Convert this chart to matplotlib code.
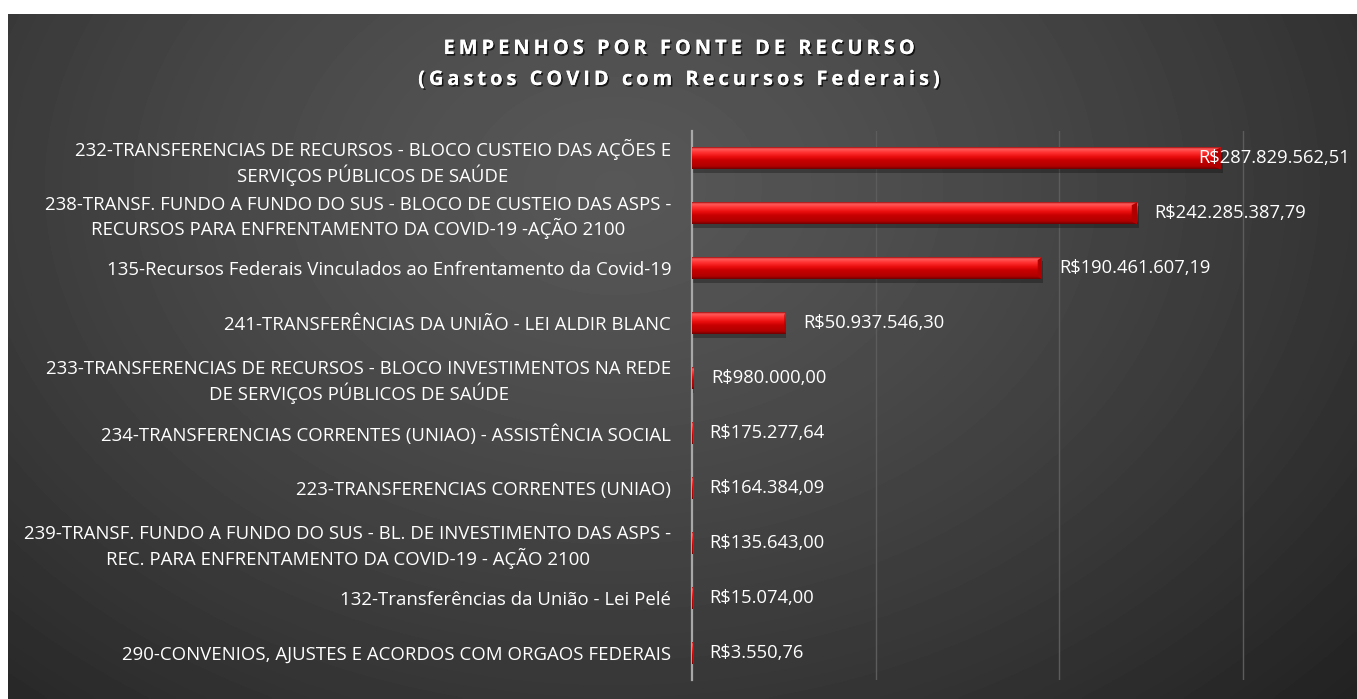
#!/usr/bin/env python3
"""Empenhos por fonte de recurso - gastos COVID com recursos federais."""

import numpy as np
import matplotlib
matplotlib.use("Agg")
import matplotlib.pyplot as plt
import matplotlib.patheffects as pe
from matplotlib.colors import LinearSegmentedColormap

# ── Data ─────────────────────────────────────────────────────────────────────
fontes = [
    "232-TRANSFERENCIAS DE RECURSOS - BLOCO CUSTEIO DAS AÇÕES E\nSERVIÇOS PÚBLICOS DE SAÚDE",
    "238-TRANSF. FUNDO A FUNDO DO SUS - BLOCO DE CUSTEIO DAS ASPS -\nRECURSOS PARA ENFRENTAMENTO DA COVID-19 -AÇÃO 2100",
    "135-Recursos Federais Vinculados ao Enfrentamento da Covid-19",
    "241-TRANSFERÊNCIAS DA UNIÃO - LEI ALDIR BLANC",
    "233-TRANSFERENCIAS DE RECURSOS - BLOCO INVESTIMENTOS NA REDE\nDE SERVIÇOS PÚBLICOS DE SAÚDE",
    "234-TRANSFERENCIAS CORRENTES (UNIAO) - ASSISTÊNCIA SOCIAL",
    "223-TRANSFERENCIAS CORRENTES (UNIAO)",
    "239-TRANSF. FUNDO A FUNDO DO SUS - BL. DE INVESTIMENTO DAS ASPS -\nREC. PARA ENFRENTAMENTO DA COVID-19 - AÇÃO 2100",
    "132-Transferências da União - Lei Pelé",
    "290-CONVENIOS, AJUSTES E ACORDOS COM ORGAOS FEDERAIS",
]
valores = [
    287829562.51, 242285387.79, 190461607.19, 50937546.30, 980000.00,
    175277.64, 164384.09, 135643.00, 15074.00, 3550.76,
]
rotulos = [
    "R$287.829.562,51", "R$242.285.387,79", "R$190.461.607,19",
    "R$50.937.546,30", "R$980.000,00", "R$175.277,64", "R$164.384,09",
    "R$135.643,00", "R$15.074,00", "R$3.550,76",
]

FONT = ["Open Sans", "DejaVu Sans"]
W, H = 1357, 699

fig = plt.figure(figsize=(W / 100, H / 100), dpi=100, facecolor="white")

# ── Background panel (radial grey gradient) ──────────────────────────────────
bg = fig.add_axes([8 / W, 0, 1 - 8 / W, 1 - 14 / H], zorder=0)
gx, gy = np.meshgrid(np.linspace(0, 1, 400), np.linspace(0, 1, 220))
d = np.sqrt(((gx - 0.45) / 0.75) ** 2 + ((gy - 0.25) / 1.1) ** 2)
shade = 0x57 - (0x57 - 0x22) * np.clip(d, 0, 1) ** 1.3
bg.imshow(shade, cmap="gray", vmin=0, vmax=255, aspect="auto",
          extent=(0, 1, 1, 0), interpolation="bicubic")
bg.set_axis_off()

# ── Main axes ────────────────────────────────────────────────────────────────
ax = fig.add_axes([692 / W, 1 - 680 / H, (1335 - 692) / W, (680 - 131) / H],
                  zorder=1)
ax.patch.set_alpha(0)

bar_cmap = LinearSegmentedColormap.from_list("bar3d", [
    (0.00, "#a01010"),
    (0.08, "#ff5a5a"),
    (0.25, "#ff3030"),
    (0.45, "#e80c0c"),
    (0.60, "#c80000"),
    (0.88, "#b00000"),
    (1.00, "#700000"),
])
grad = np.linspace(0, 1, 64).reshape(-1, 1)

y = np.arange(len(valores))
h = 0.40
for yi, v in zip(y, valores):
    # drop shadow
    ax.add_patch(plt.Rectangle((0, yi - h / 2 + 0.07), v * 1.004, h,
                               color="black", alpha=0.28, lw=0, zorder=2))
    ax.imshow(grad, cmap=bar_cmap, aspect="auto", origin="lower",
              extent=(0, v, yi - h / 2, yi + h / 2), zorder=3,
              interpolation="bilinear")
    # bevelled end cap
    cap = v * 0.012 if v > 1e7 else 0
    if cap:
        ax.fill([v - cap, v, v, v - cap],
                [yi - h / 2 + 0.05, yi - h / 2, yi + h / 2, yi + h / 2 - 0.05],
                color="#b00000", lw=0, zorder=4)

for yi, v, lab in zip(y, valores, rotulos):
    off = -16 if v > 2.8e8 else 12.5
    ax.annotate(lab, (v, yi), xytext=(off, 0), textcoords="offset points",
                ha="left", va="center", color="white", fontsize=13.2,
                family=FONT, zorder=5)

ax.set_xlim(0, 350e6)
ax.set_ylim(len(valores) - 0.5, -0.5)
ax.set_xticks([100e6, 200e6, 300e6])
ax.tick_params(axis="x", length=0, labelbottom=False)
ax.grid(axis="x", color="#5c5c5c", lw=1.0)
ax.set_axisbelow(True)

ax.set_yticks(y)
ax.set_yticklabels(fontes, family=FONT, fontsize=13.4, color="white",
                   multialignment="center", linespacing=1.25)
ax.tick_params(axis="y", length=0, pad=15)

for s in ("top", "right", "bottom"):
    ax.spines[s].set_visible(False)
ax.spines["left"].set_color("#a8a8a8")
ax.spines["left"].set_linewidth(1.6)

# ── Title (letter-spaced with hair spaces) ───────────────────────────────────
sp = "\u200a\u200a"
shadow = [pe.withSimplePatchShadow(offset=(1.2, -1.2), shadow_rgbFace="black",
                                   alpha=0.7), pe.Normal()]
fig.text(0.5, 1 - 49 / H, sp.join("EMPENHOS POR FONTE DE RECURSO"),
         ha="center", va="center", color="white", fontsize=14.4,
         fontweight="bold", family=FONT, path_effects=shadow)
fig.text(0.5, 1 - 80 / H, sp.join("(Gastos COVID com Recursos Federais)"),
         ha="center", va="center", color="white", fontsize=14.4,
         fontweight="bold", family=FONT, path_effects=shadow)

fig.savefig("out.png", dpi=100, facecolor="white")
